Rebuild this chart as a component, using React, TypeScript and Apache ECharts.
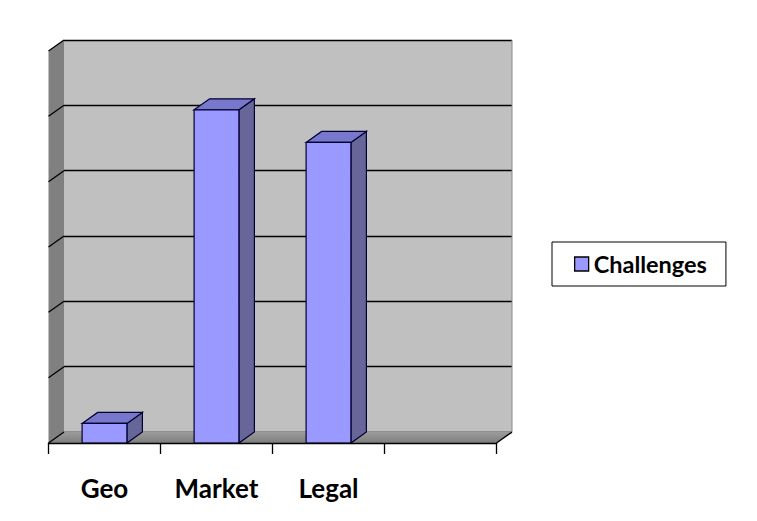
import React, { useEffect, useRef } from 'react';
import * as echarts from 'echarts';

const CATEGORIES = ['Geo', 'Market', 'Legal', ''];
const SERIES_NAME = 'Challenges';
const VALUES: (number | null)[] = [0.3, 5.1, 4.6, null];
const Y_MIN = 0;
const Y_MAX = 6;
const Y_INTERVAL = 1;
const Y_TICKS = [0, 1, 2, 3, 4, 5, 6];

const DEPTH_X = 15.5;
const DEPTH_Y = 11;
const BAR_RATIO = 0.4;
const FRONT = '#9999FF';
const TOP = '#7777CC';
const SIDE = '#666699';
const FONT = 'Lato, "Open Sans", sans-serif';

export default function App() {
  const ref = useRef<HTMLDivElement>(null);
  useEffect(() => {
    if (!ref.current) return;
    const chart = echarts.init(ref.current, undefined, { renderer: 'svg' });
    const barData = VALUES.map((v, i) => [i, v]).filter((d) => d[1] !== null);

    const option: any = {
      animation: false,
      backgroundColor: '#ffffff',
      grid: [
        {
          left: 48.5 + DEPTH_X,
          top: 51 - DEPTH_Y,
          width: 448,
          height: 392,
          show: true,
          backgroundColor: '#C0C0C0',
          borderWidth: 0,
        },
        { left: 48.5, top: 51, width: 448, height: 392 },
      ],
      xAxis: [
        { type: 'category', gridIndex: 0, data: CATEGORIES, show: false },
        {
          type: 'category',
          gridIndex: 1,
          data: CATEGORIES,
          boundaryGap: true,
          axisLine: { show: true, lineStyle: { color: '#000', width: 1.3 } },
          axisTick: { show: true, length: 11, lineStyle: { color: '#000', width: 1.3 } },
          axisLabel: {
            margin: 32,
            color: '#000',
            fontFamily: FONT,
            fontWeight: 'bold',
            fontSize: 26,
          },
          z: 5,
        },
      ],
      yAxis: [
        {
          type: 'value',
          gridIndex: 0,
          min: Y_MIN,
          max: Y_MAX,
          interval: Y_INTERVAL,
          axisLine: { show: false },
          axisTick: { show: false },
          axisLabel: { show: false },
          splitLine: { show: true, lineStyle: { color: '#000', width: 1.3 } },
        },
        { type: 'value', gridIndex: 1, min: Y_MIN, max: Y_MAX, interval: Y_INTERVAL, show: false },
      ],
      legend: {
        data: [{ name: SERIES_NAME, icon: 'rect' }],
        selectedMode: false,
        left: 552,
        top: 242,
        padding: [10, 19, 10, 22],
        itemWidth: 14,
        itemHeight: 14,
        itemGap: 0,
        borderColor: '#000',
        borderWidth: 1,
        backgroundColor: '#fff',
        itemStyle: { borderColor: '#000', borderWidth: 1.3 },
        textStyle: { fontFamily: FONT, fontWeight: 'bold', fontSize: 23.5, color: '#000' },
      },
      series: [
        {
          type: 'custom',
          name: 'walls',
          xAxisIndex: 1,
          yAxisIndex: 1,
          z: 1,
          silent: true,
          data: [[0, 0]],
          renderItem: (params: any, api: any) => {
            const cs = params.coordSys;
            const L = cs.x;
            const T = cs.y;
            const R = cs.x + cs.width;
            const B = cs.y + cs.height;
            const children: any[] = [
              {
                type: 'polygon',
                shape: { points: [[L, T], [L + DEPTH_X, T - DEPTH_Y], [L + DEPTH_X, B - DEPTH_Y], [L, B]] },
                style: { fill: '#808080', stroke: null },
              },
              {
                type: 'polygon',
                shape: { points: [[L, B], [L + DEPTH_X, B - DEPTH_Y], [R + DEPTH_X, B - DEPTH_Y], [R, B]] },
                style: {
                  fill: new echarts.graphic.LinearGradient(0, 0, 0, 1, [
                    { offset: 0, color: '#9c9c9c' },
                    { offset: 1, color: '#7e7e7e' },
                  ]),
                  stroke: null,
                },
              },
              {
                type: 'line',
                shape: { x1: R + DEPTH_X, y1: T - DEPTH_Y, x2: R + DEPTH_X, y2: B - DEPTH_Y },
                style: { stroke: '#8a8a8a', lineWidth: 1 },
              },
              {
                type: 'line',
                shape: { x1: R, y1: B, x2: R + DEPTH_X, y2: B - DEPTH_Y },
                style: { stroke: '#000', lineWidth: 1.3 },
              },
            ];
            Y_TICKS.forEach((v) => {
              const y = api.coord([0, v])[1];
              children.push({
                type: 'line',
                shape: { x1: L + DEPTH_X, y1: y - DEPTH_Y, x2: L, y2: y },
                style: { stroke: '#000', lineWidth: 1.3 },
              });
            });
            return { type: 'group', children };
          },
        },
        {
          type: 'custom',
          name: SERIES_NAME,
          xAxisIndex: 1,
          yAxisIndex: 1,
          z: 3,
          itemStyle: { color: FRONT },
          encode: { x: 0, y: 1 },
          data: barData,
          renderItem: (params: any, api: any) => {
            const idx = api.value(0);
            const val = api.value(1);
            const base = api.coord([idx, 0]);
            const top = api.coord([idx, val]);
            const bw = api.size([1, 0])[0] * BAR_RATIO;
            const x0 = base[0] - bw / 2;
            const x1 = base[0] + bw / 2;
            const y0 = top[1];
            const y1 = base[1];
            const st = { stroke: '#000033', lineWidth: 1.2 };
            return {
              type: 'group',
              children: [
                {
                  type: 'polygon',
                  shape: { points: [[x1, y0], [x1 + DEPTH_X, y0 - DEPTH_Y], [x1 + DEPTH_X, y1 - DEPTH_Y], [x1, y1]] },
                  style: { fill: SIDE, ...st },
                },
                {
                  type: 'polygon',
                  shape: { points: [[x0, y0], [x0 + DEPTH_X, y0 - DEPTH_Y], [x1 + DEPTH_X, y0 - DEPTH_Y], [x1, y0]] },
                  style: { fill: TOP, ...st },
                },
                {
                  type: 'rect',
                  shape: { x: x0, y: y0, width: bw, height: y1 - y0 },
                  style: { fill: FRONT, ...st },
                },
              ],
            };
          },
        },
      ],
    };
    chart.setOption(option);
    return () => chart.dispose();
  }, []);
  return <div ref={ref} style={{ position: 'fixed', left: 0, top: 0, width: 757, height: 521 }} />;
}
